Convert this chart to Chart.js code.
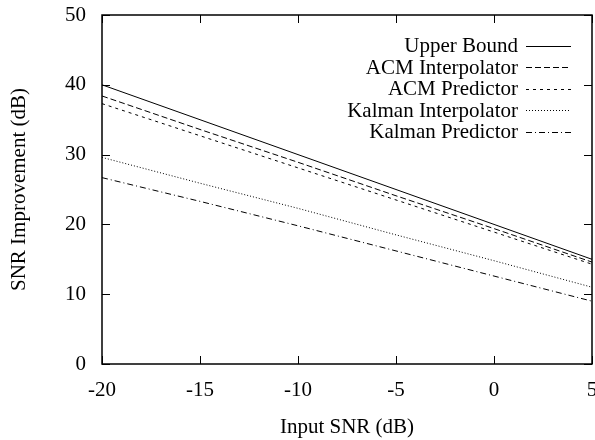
<!DOCTYPE html>
<html>
<head>
<meta charset="utf-8">
<script src="https://cdn.jsdelivr.net/npm/chart.js@4/dist/chart.umd.min.js"></script>
<style>
  html, body { margin: 0; padding: 0; background: #fff; }
  #wrap { width: 595px; height: 440px; }
</style>
</head>
<body>
<div id="wrap"><canvas id="snr-chart"></canvas></div>
<script>
// input SNR (dB)
const inputSnr = [-20, -15, -10, -5, 0, 5];

// SNR improvement (dB)
const upperBound = [40.0, 35.0, 30.0, 25.0, 20.0, 15.0];
const acmInterp = [38.4, 33.6, 28.9, 24.1, 19.4, 14.6];
const acmPred = [37.3, 32.7, 28.1, 23.5, 18.9, 14.3];
const kalmanInterp = [29.6, 25.9, 22.3, 18.5, 14.8, 11.0];
const kalmanPred = [26.7, 23.3, 19.8, 16.2, 12.6, 9.0];

const seriesNames = ['Upper Bound', 'ACM Interpolator', 'ACM Predictor', 'Kalman Interpolator', 'Kalman Predictor'];
const seriesData = [upperBound, acmInterp, acmPred, kalmanInterp, kalmanPred];
const dashes = [[], [6, 3], [3, 4], [1, 2], [6, 3, 1, 3]];

const xTicks = [-20, -15, -10, -5, 0, 5];
const yTicks = [0, 10, 20, 30, 40, 50];

const serif = 'Liberation Serif, Times New Roman, serif';

// gnuplot style frame with inward ticks on all sides + legend
const framePlugin = {
    id: 'frame',
    afterDatasetsDraw(chart) {
        const ctx = chart.ctx;
        const a = chart.chartArea;
        const xs = chart.scales.x, ys = chart.scales.y;
        ctx.save();
        ctx.strokeStyle = '#000';
        ctx.lineWidth = 1.5;
        ctx.strokeRect(a.left, a.top, a.right - a.left, a.bottom - a.top);
        ctx.lineWidth = 1;
        ctx.beginPath();
        xTicks.forEach(v => {
            const px = Math.round(xs.getPixelForValue(v)) + 0.5;
            ctx.moveTo(px, a.bottom); ctx.lineTo(px, a.bottom - 8);
            ctx.moveTo(px, a.top); ctx.lineTo(px, a.top + 8);
        });
        yTicks.forEach(v => {
            const py = Math.round(ys.getPixelForValue(v)) + 0.5;
            ctx.moveTo(a.left, py); ctx.lineTo(a.left + 8, py);
            ctx.moveTo(a.right, py); ctx.lineTo(a.right - 8, py);
        });
        ctx.stroke();

        // legend
        ctx.font = '21px ' + serif;
        ctx.fillStyle = '#000';
        ctx.textAlign = 'right';
        ctx.textBaseline = 'middle';
        chart.data.datasets.forEach((ds, i) => {
            const y = 45.5 + i * 21.5;
            ctx.fillText(ds.label, 518, y + 1);
            ctx.beginPath();
            ctx.setLineDash(ds.borderDash);
            ctx.lineWidth = 1;
            ctx.moveTo(526, Math.round(y) + 0.5);
            ctx.lineTo(571, Math.round(y) + 0.5);
            ctx.stroke();
        });
        ctx.restore();
    }
};

new Chart(document.querySelector('#snr-chart').getContext('2d'), {
    type: 'line',
    data: {
        datasets: seriesData.map((vals, i) => ({
            label: seriesNames[i],
            data: vals.map((v, j) => ({ x: inputSnr[j], y: v })),
            borderColor: '#000',
            borderWidth: 1,
            borderDash: dashes[i],
            pointRadius: 0,
            fill: false,
            tension: 0
        }))
    },
    options: {
        responsive: true,
        maintainAspectRatio: false,
        animation: false,
        layout: { padding: { top: 15, right: 3, left: 0, bottom: 0 } },
        plugins: {
            legend: { display: false },
            tooltip: { enabled: false }
        },
        scales: {
            x: {
                type: 'linear',
                min: -20,
                max: 5,
                afterFit: s => { s.height = 76; s.paddingLeft = 0; s.paddingRight = 0; },
                afterBuildTicks: s => { s.ticks = xTicks.map(v => ({ value: v })); },
                grid: { display: false },
                border: { display: false },
                ticks: { color: '#000', padding: 6, font: { family: serif, size: 21 }, maxRotation: 0 },
                title: { display: true, text: 'Input SNR (dB)', color: '#000', padding: { top: 4, bottom: 0 }, font: { family: serif, size: 21 } }
            },
            y: {
                min: 0,
                max: 50,
                afterFit: s => { s.width = 102; s.paddingTop = 0; s.paddingBottom = 0; },
                afterBuildTicks: s => { s.ticks = yTicks.map(v => ({ value: v })); },
                grid: { display: false },
                border: { display: false },
                ticks: { color: '#000', padding: 8, font: { family: serif, size: 21 } },
                title: { display: true, text: 'SNR Improvement (dB)', color: '#000', padding: { top: 7, bottom: 4 }, font: { family: serif, size: 21 } }
            }
        }
    },
    plugins: [framePlugin]
});
</script>
</body>
</html>
